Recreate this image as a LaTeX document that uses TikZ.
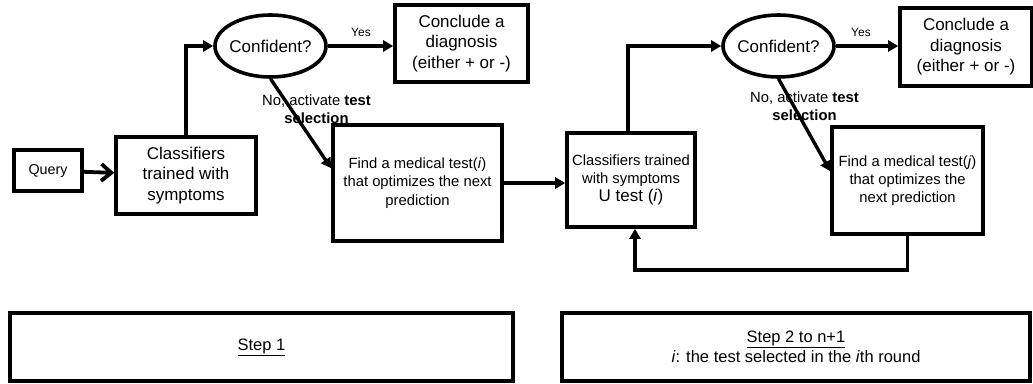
\documentclass[tikz,border=0pt]{standalone}
\usepackage{fontspec}
\setmainfont{Liberation Sans}
\usetikzlibrary{arrows.meta,shapes.geometric,calc}

\begin{document}
\begin{tikzpicture}[x=1pt,y=-1pt,
  every node/.style={inner sep=0pt},
  rbox/.style={draw, line width=3.6pt, rectangle, align=center},
  oval/.style={draw, line width=3.6pt, ellipse},
  big/.style={font=\fontsize{17}{20.5}\selectfont, align=center},
  mid/.style={font=\fontsize{14.8}{18.2}\selectfont, align=center},
  low/.style={font=\fontsize{16.5}{20}\selectfont, align=center},
  tiny/.style={font=\fontsize{12}{14}\selectfont},
  conn/.style={line width=3.4pt, -{Triangle[length=10pt,width=11pt]}},
  qarrow/.style={line width=3.8pt, -{Straight Barb[length=10pt,width=17pt]}}
]
\useasboundingbox (0,0) rectangle (1033,383);

% ---- step 1 ----
\node[rbox, minimum width=68pt, minimum height=41pt,
      font=\fontsize{14.3}{17}\selectfont] (q) at (48,170.5) {Query};
\node[rbox, big, minimum width=140pt, minimum height=77pt] (c1) at (186,175.5)
  {Classifiers\\trained with\\symptoms};
\node[oval, minimum width=111pt, minimum height=62pt] (e1) at (270.5,46) {};
\node[big] (e1lbl) at (e1) {Confident?};
\node[rbox, big, minimum width=133pt, minimum height=77pt] (d1) at (461.5,43.5)
  {Conclude a\\diagnosis\\(either + or -)};
\node[rbox, mid, minimum width=169pt, minimum height=116pt] (f1) at (417.5,183)
  {Find a medical test(\textit{i})\\that optimizes the next\\prediction};

% ---- step 2 to n+1 ----
\node[rbox, mid, minimum width=128pt, minimum height=94pt] (c2) at (631,180)
  {Classifiers trained\\with symptoms\\{\fontsize{17}{19}\selectfont U test (\textit{i})}};
\node[oval, minimum width=111pt, minimum height=62pt] (e2) at (778.5,46) {};
\node[big] (e2lbl) at (e2) {Confident?};
\node[rbox, big, minimum width=132pt, minimum height=78pt] (d2) at (966,47)
  {Conclude a\\diagnosis\\(either + or -)};
\node[rbox, mid, minimum width=151pt, minimum height=107pt] (f2) at (907.5,180.5)
  {Find a medical test(\textit{j})\\that optimizes the\\next prediction};

% ---- captions ----
\node[rbox, low, minimum width=503pt, minimum height=68pt] (s1) at (261.5,347)
  {\underline{Step 1}};
\node[rbox, low, minimum width=468pt, minimum height=68pt] (s2) at (796,347)
  {\underline{Step 2 to n+1}\\\textit{i}: the test selected in the \textit{i}th round};

% ---- connectors, step 1 ----
\draw[qarrow] (q) -- (c1);
\draw[conn] (c1.north) |- (e1.west);
\draw[conn] (e1.east) -- (e1.east -| d1.west);
\node[tiny] (y1) at (361,32) {Yes};
\coordinate (f1in) at ($(f1.north west)+(0,45)$);
\draw[conn] (e1.south) -- (f1in);
\node[mid] (n1) at (316.5,109) {No, activate \textbf{test}\\\textbf{selection}};
\draw[conn] (f1.east) -- (f1.east -| c2.west);

% ---- connectors, step 2 to n+1 ----
\draw[conn] ([xshift=-3pt]c2.north) |- (e2.west);
\draw[conn] (e2.east) -- (e2.east -| d2.west);
\node[tiny] (y2) at (861,32) {Yes};
\coordinate (f2in) at ($(f2.north west)+(0,46)$);
\draw[conn] (e2.south) -- (f2in);
\node[mid] (n2) at (804.5,106) {No, activate \textbf{test}\\\textbf{selection}};
\coordinate (loop) at (0,270);
\draw[conn] (f2.south) -- (f2.south |- loop) -| ([xshift=4pt]c2.south);
\end{tikzpicture}
\end{document}
